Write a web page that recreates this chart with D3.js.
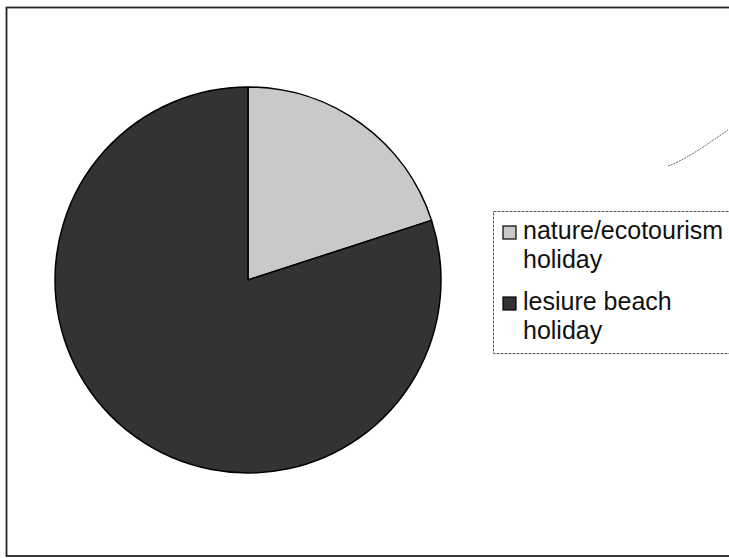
<!DOCTYPE html>
<html>
<head>
<meta charset="utf-8">
<script src="https://cdn.jsdelivr.net/npm/d3@7"></script>
<style>
  html, body { margin: 0; padding: 0; background: #fff; }
  svg { display: block; }
</style>
</head>
<body>
<svg id="chart" width="729" height="558"></svg>
<script>
// chart data
var categories = ["nature/ecotourism holiday", "lesiure beach holiday"]
var values = [20, 80]
var legendLines = [["nature/ecotourism", "holiday"], ["lesiure beach", "holiday"]]
var colors = ["#c9c9c9", "#333333"]

var width = 729
var height = 558
var cx = 248, cy = 280, radius = 193

var svg = d3.select("#chart")

// outer frame (runs off the right edge like the scan)
svg.append("rect")
  .attr("x", 6.5).attr("y", 7.5)
  .attr("width", 760).attr("height", 548.5)
  .attr("fill", "none")
  .attr("stroke", "#222")
  .attr("stroke-width", 1.8)

var pie = d3.pie().sort(null).value(d => d)
var arc = d3.arc().innerRadius(0).outerRadius(radius)

var data = pie(values)

var g = svg.append("g").attr("transform", `translate(${cx},${cy})`)

g.selectAll("path")
  .data(data)
  .join("path")
  .attr("d", arc)
  .attr("fill", (d, i) => colors[i])
  .attr("stroke", "#000")
  .attr("stroke-width", 1.5)
  .attr("stroke-linejoin", "round")

// legend
var legend = svg.append("g")

legend.append("rect")
  .attr("x", 493.5).attr("y", 211.5)
  .attr("width", 260).attr("height", 142)
  .attr("fill", "none")
  .attr("stroke", "#555")
  .attr("stroke-width", 1)
  .attr("stroke-dasharray", "3,1")

var entryY = [226, 297]
var lineGap = 29

var item = legend.selectAll("g.item")
  .data(categories)
  .join("g")
  .attr("class", "item")
  .attr("transform", (d, i) => `translate(0,${entryY[i]})`)

item.append("rect")
  .attr("x", 503).attr("y", 0)
  .attr("width", 13).attr("height", 13)
  .attr("fill", (d, i) => colors[i])
  .attr("stroke", "#000")
  .attr("stroke-width", 1.2)

item.append("text")
  .attr("x", 523)
  .attr("y", 13)
  .attr("font-family", "'Liberation Sans', Arial, sans-serif")
  .attr("font-size", 25)
  .attr("fill", "#111")
  .selectAll("tspan")
  .data((d, i) => legendLines[i])
  .join("tspan")
  .attr("x", 523)
  .attr("dy", (d, j) => j === 0 ? 0 : lineGap)
  .text(d => d)

// stray pen mark at top right of the scan
svg.append("path")
  .attr("d", "M668,166 C685,160 705,146 728,130")
  .attr("fill", "none")
  .attr("stroke", "#666")
  .attr("stroke-width", 1)
  .attr("stroke-dasharray", "2,1")
</script>
</body>
</html>
